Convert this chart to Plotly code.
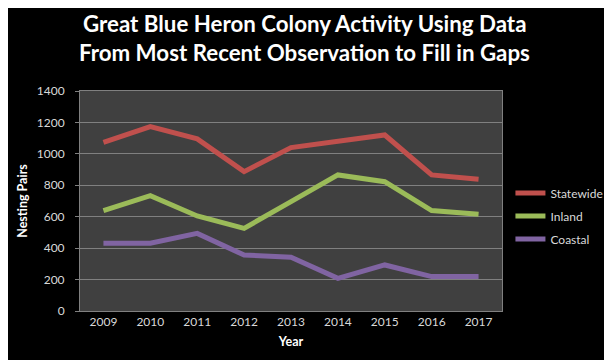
import plotly.graph_objects as go

years = ["2009", "2010", "2011", "2012", "2013", "2014", "2015", "2016", "2017"]
statewide = [1073, 1173, 1095, 887, 1040, 1084, 1120, 866, 838]
inland = [639, 734, 605, 526, 696, 866, 823, 639, 615]
coastal = [431, 431, 494, 356, 342, 208, 293, 219, 219]

title_lines = ["Great Blue Heron Colony Activity Using Data",
               "From Most Recent Observation to Fill in Gaps"]

series = [
    ("Statewide", statewide, "#C0504D"),
    ("Inland", inland, "#9BBB59"),
    ("Coastal", coastal, "#8064A2"),
]

fig = go.Figure()
for name, vals, color in series:
    fig.add_trace(go.Scatter(x=years, y=vals, name=name, mode="lines", legendgroup=name,
                             line=dict(color=color, width=5)))

for i, t in enumerate(title_lines):
    fig.add_annotation(text=t, xref="paper", yref="paper", x=(299 - 72) / 427,
                       y=1 + (83 - (16 + 28 * i)) / 220, xanchor="center", yanchor="middle",
                       showarrow=False,
                       font=dict(family="Lato, sans-serif", size=22.3, color="#FFFFFF", weight="bold"))

fig.update_layout(
    width=612, height=360,
    paper_bgcolor="#000000", plot_bgcolor="#404040",
    margin=dict(l=72, r=113, t=83, b=57),
    font=dict(family="Lato, Liberation Sans, sans-serif", color="#D9D9D9", size=12),
    showlegend=True,
    legend=dict(x=1.02, xanchor="left", y=(303 - 208) / 220, yanchor="middle",
                font=dict(size=12, color="#D9D9D9"), tracegroupgap=4,
                bgcolor="rgba(0,0,0,0)"),
)
fig.update_xaxes(
    type="category", range=[-0.5, 8.5], showgrid=False,
    showline=True, linecolor="#808080", linewidth=1, mirror=True,
    ticks="", tickfont=dict(size=12, color="#D9D9D9"),
    title=dict(text="Year", font=dict(size=12.5, color="#FFFFFF", weight="bold"), standoff=8),
)
fig.update_yaxes(
    range=[0, 1400], dtick=200, showgrid=True, gridcolor="#808080", gridwidth=1,
    showline=True, linecolor="#808080", linewidth=1, mirror=True,
    ticks="outside", ticklen=4, tickcolor="#808080", ticklabelstandoff=8,
    tickfont=dict(size=12, color="#D9D9D9"), zeroline=False,
    title=dict(text="Nesting Pairs", font=dict(size=12.5, color="#FFFFFF", weight="bold"), standoff=6),
)

fig.write_html("out.html")
